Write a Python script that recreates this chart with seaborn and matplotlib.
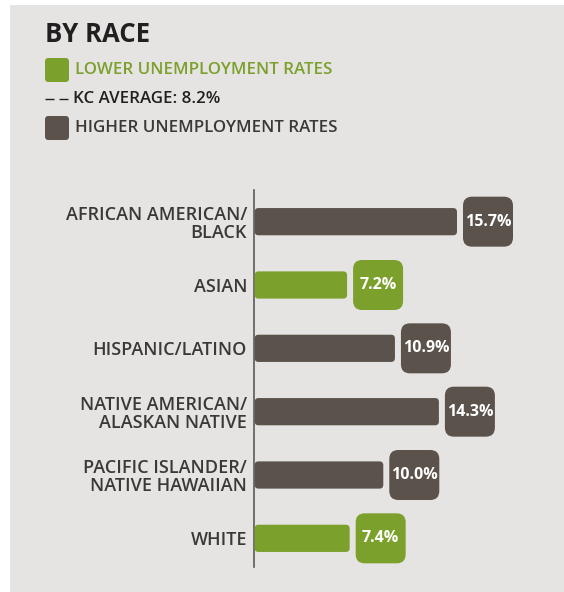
import matplotlib
matplotlib.use("Agg")
import matplotlib.pyplot as plt
import matplotlib.transforms as mtransforms
from matplotlib.patches import FancyBboxPatch, Rectangle
from matplotlib.lines import Line2D
import pandas as pd
import seaborn as sns

groups = ["AFRICAN AMERICAN/\nBLACK", "ASIAN", "HISPANIC/LATINO",
          "NATIVE AMERICAN/\nALASKAN NATIVE", "PACIFIC ISLANDER/\nNATIVE HAWAIIAN", "WHITE"]
rates = [15.7, 7.2, 10.9, 14.3, 10.0, 7.4]
kc_average = 8.2

GREEN = "#7ca02c"
BROWN = "#5a524b"
BG = "#e6e4e2"
TEXT = "#3b3838"
FONT = "Open Sans"

df = pd.DataFrame({"group": groups, "rate": rates})
df["level"] = ["lower" if r < kc_average else "higher" for r in rates]

sns.set_style("white")
plt.rcParams["font.family"] = [FONT, "DejaVu Sans"]

W, H = 564, 592
fig = plt.figure(figsize=(W / 100, H / 100), dpi=100)
fig.patch.set_facecolor("white")
fig.patches.append(Rectangle((10 / W, 0), 1 - 10 / W, 1 - 5 / H, transform=fig.transFigure,
                             facecolor=BG, edgecolor="none", zorder=-5))

def fx(px):
    return px / W

def fy(py):
    return 1 - py / H

ax = fig.add_axes([fx(254), fy(570), fx(555) - fx(254), fy(190) - fy(570)])
ax.set_facecolor("none")
ax.set_zorder(2)

sns.barplot(data=df, y="group", x="rate", hue="level", orient="h", dodge=False,
            palette={"lower": GREEN, "higher": BROWN}, width=0.43, legend=False,
            saturation=1, ax=ax)

ax.set_xlim(0, (555 - 254) / 12.93)
ax.set_ylim(5.5, -0.5)
ax.set_xlabel("")
ax.set_ylabel("")
ax.set_xticks([])
for s in ["top", "right", "bottom"]:
    ax.spines[s].set_visible(False)
ax.spines["left"].set_color("#5a5a5a")
ax.spines["left"].set_linewidth(1.2)
ax.spines["left"].set_bounds(5.45, -0.5)
ax.tick_params(axis="y", length=0, pad=5)
for lab in ax.get_yticklabels():
    lab.set_fontsize(13)
    lab.set_fontweight("semibold")
    lab.set_color(TEXT)
    lab.set_linespacing(1.0)

# rounded bars
aspect = (63 / 12.93)
for p in list(ax.patches):
    x0, y0 = p.get_x(), p.get_y()
    w, h = p.get_width(), p.get_height()
    if w == 0:
        continue
    rb = FancyBboxPatch((x0 + 0.05, y0), w - 0.05, h,
                        boxstyle="round,pad=0,rounding_size=0.3",
                        mutation_aspect=1 / aspect,
                        facecolor=p.get_facecolor(), edgecolor="none", zorder=3)
    p.set_visible(False)
    ax.add_patch(rb)

# value boxes
for i, (r, lvl) in enumerate(zip(rates, df["level"])):
    trans = fig.dpi_scale_trans + mtransforms.ScaledTranslation(r, i, ax.transData)
    color = GREEN if lvl == "lower" else BROWN
    box = FancyBboxPatch((0.06, -0.25), 0.50, 0.50,
                         boxstyle="round,pad=0,rounding_size=0.09",
                         facecolor=color, edgecolor="none", transform=trans,
                         zorder=4, clip_on=False)
    ax.add_patch(box)
    ax.text(0.31, 0.0, f"{r:.1f}%", transform=trans, ha="center", va="center",
            color="white", fontsize=11.5, fontweight="bold", zorder=5)

# header and legend
fig.text(fx(45), fy(35), "BY RACE", fontsize=18.5, fontweight="bold", color="#231f20",
         ha="left", va="center")
for yc, color, label, tcolor in [(70, GREEN, "LOWER UNEMPLOYMENT RATES", GREEN),
                                 (128, BROWN, "HIGHER UNEMPLOYMENT RATES", TEXT)]:
    sq = FancyBboxPatch((fx(45), fy(yc + 12)), fx(24), 24 / H,
                        boxstyle="round,pad=0,rounding_size=0.006",
                        transform=fig.transFigure, facecolor=color, edgecolor="none")
    fig.patches.append(sq)
    fig.text(fx(75), fy(yc), label, fontsize=12.2, fontweight="semibold", color=tcolor,
             ha="left", va="center")
fig.add_artist(Line2D([fx(45), fx(68)], [fy(99), fy(99)], transform=fig.transFigure,
                      color="#231f20", linewidth=1.0, linestyle=(0, (6.5, 3.6))))
fig.text(fx(73), fy(99), f"KC AVERAGE: {kc_average}%", fontsize=12.2,
         fontweight="semibold", color="#231f20", ha="left", va="center")

fig.savefig("out.png", dpi=100, facecolor=fig.get_facecolor())
